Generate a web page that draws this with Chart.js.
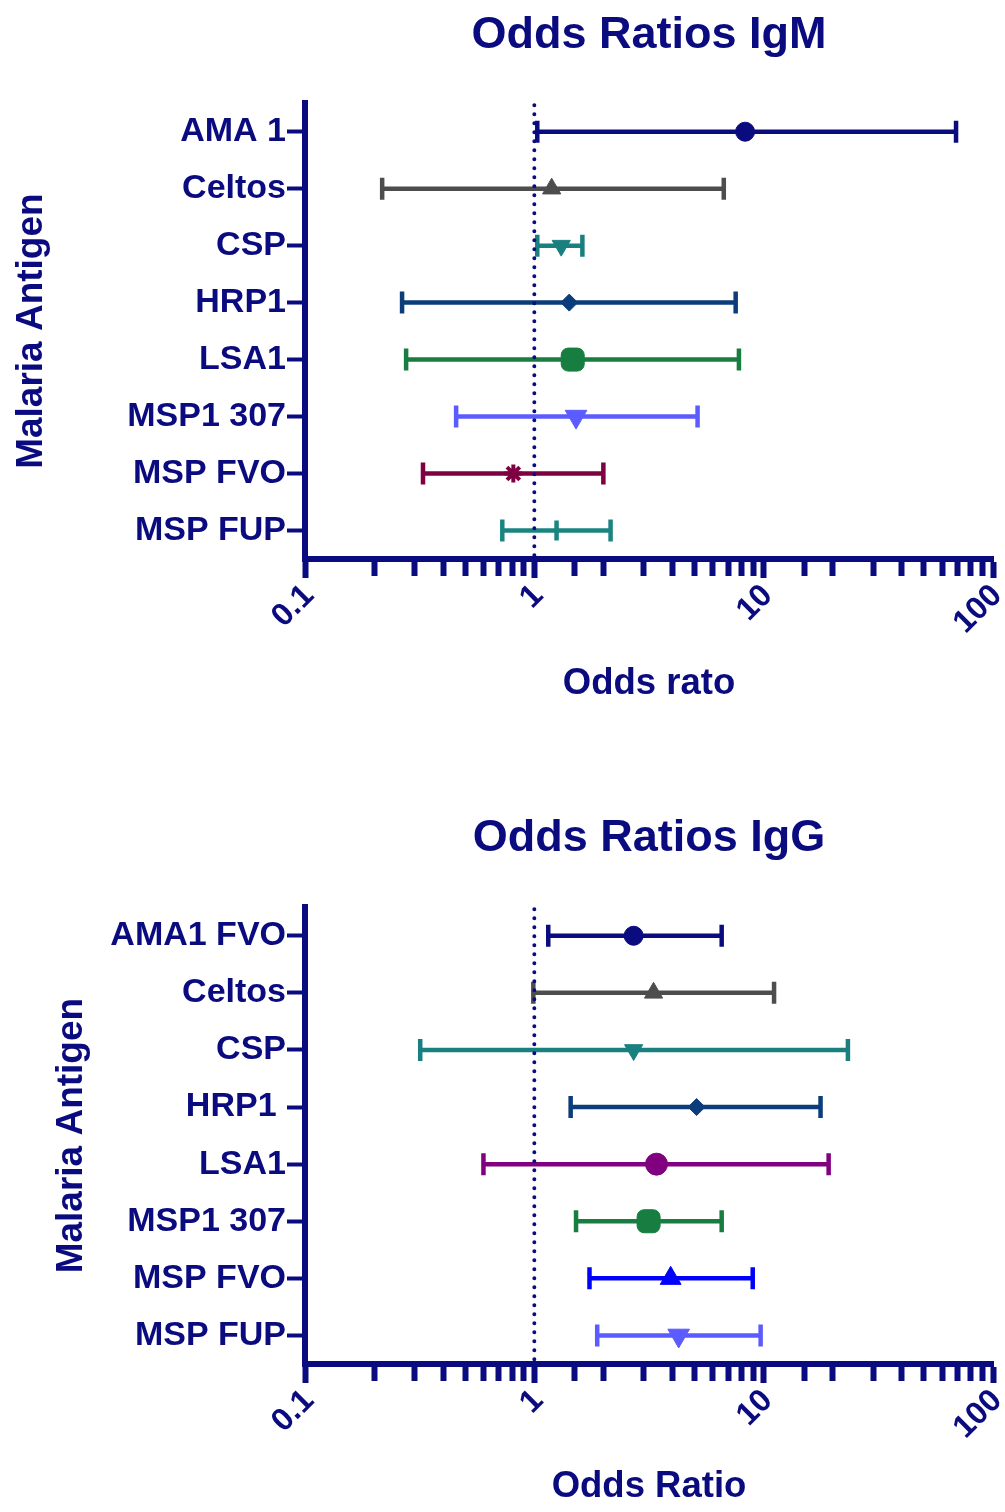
<!DOCTYPE html>
<html lang="en">
<head>
<meta charset="UTF-8" />
<title>Odds Ratios IgM / IgG</title>
<script src="https://cdn.jsdelivr.net/npm/chart.js"></script>
<style>
  * { box-sizing: border-box; margin: 0; padding: 0; }
  body { width: 1005px; height: 1512px; background: #fff; overflow: hidden; }
  .panel { position: relative; width: 1005px; height: 756px; }
</style>
</head>
<body>
  <div class="panel"><canvas id="igmChart"></canvas></div>
  <div class="panel"><canvas id="iggChart"></canvas></div>

<script>
  // IgM panel
  const igmAntigens = ['AMA 1', 'Celtos', 'CSP', 'HRP1', 'LSA1', 'MSP1 307', 'MSP FVO', 'MSP FUP'];
  const igmOdds  = [8.3, 1.19, 1.31, 1.42, 1.47, 1.52, 0.81, 1.25];
  const igmLower = [1.03, 0.217, 1.03, 0.265, 0.276, 0.456, 0.327, 0.725];
  const igmUpper = [69, 6.7, 1.62, 7.55, 7.8, 5.15, 2.0, 2.15];

  // IgG panel
  const iggAntigens = ['AMA1 FVO', 'Celtos', 'CSP', 'HRP1 ', 'LSA1', 'MSP1 307', 'MSP FVO', 'MSP FUP'];
  const iggOdds  = [2.71, 3.31, 2.71, 5.1, 3.41, 3.15, 3.93, 4.26];
  const iggLower = [1.15, 0.99, 0.318, 1.44, 0.60, 1.52, 1.74, 1.88];
  const iggUpper = [6.56, 11.1, 23.3, 17.7, 19.2, 6.56, 8.96, 9.7];

  const xTickLabels = [0.1, 1, 10, 100];

  const navy = '#0b0b80';

  // marker look per row: [color, pointStyle, radius, rotation]
  const igmMarkers = [
    ['#0b0b80', 'circle', 9.5, 0],
    ['#4d4d4d', 'triangle', 10.5, 0],
    ['#1a7f7f', 'triangle', 10.5, 180],
    ['#0b3d7b', 'rectRot', 8.5, 0],
    ['#177d40', 'rectRounded', 13.4, 0],
    ['#5b5bff', 'triangle', 12.5, 180],
    ['#7f0040', 'star', 9, 0],
    ['#1a8580', 'line', 10, 90]
  ];
  const iggMarkers = [
    ['#0b0b80', 'circle', 9.5, 0],
    ['#4d4d4d', 'triangle', 10.5, 0],
    ['#1a7f7f', 'triangle', 10.5, 180],
    ['#0b3d7b', 'rectRot', 8.5, 0],
    ['#800080', 'circle', 11, 0],
    ['#177d40', 'rectRounded', 13.4, 0],
    ['#0000ff', 'triangle', 12, 0],
    ['#5b5bff', 'triangle', 12.5, 180]
  ];

  Chart.defaults.font.family = '"Liberation Sans", Arial, sans-serif';
  Chart.defaults.font.weight = 'bold';

  const isDecade = v => Math.abs(Math.log10(v) - Math.round(Math.log10(v))) < 1e-6;

  // dotted reference line at OR = 1
  const refLine = {
    id: 'refLine',
    afterDatasetsDraw(chart) {
      const { ctx, chartArea, scales } = chart;
      const px = scales.x.getPixelForValue(1);
      ctx.save();
      ctx.strokeStyle = navy;
      ctx.lineWidth = 4;
      ctx.lineCap = 'round';
      ctx.setLineDash([0, 9]);
      ctx.beginPath();
      ctx.moveTo(px, chartArea.top + 2);
      ctx.lineTo(px, chartArea.bottom - 2);
      ctx.stroke();
      ctx.restore();
    }
  };

  function buildDatasets(antigens, odds, lower, upper, markers) {
    const sets = [];
    antigens.forEach((name, i) => {
      const [color, style, radius, rot] = markers[i];
      sets.push({
        data: [{ x: lower[i], y: name }, { x: upper[i], y: name }],
        showLine: true,
        borderColor: color,
        borderWidth: 4.5,
        pointStyle: 'line',
        pointRotation: 90,
        pointRadius: 11,
        pointHoverRadius: 11,
        pointBorderWidth: 4.5,
        pointBorderColor: color
      });
      sets.push({
        data: [{ x: odds[i], y: name }],
        pointStyle: style,
        pointRotation: rot,
        pointRadius: radius,
        pointHoverRadius: radius,
        backgroundColor: color,
        borderColor: color,
        pointBorderWidth: style === 'line' ? 4.5 : (style === 'star' ? 4 : 1)
      });
    });
    return sets;
  }

  function makeChart(id, cfg) {
    return new Chart(document.getElementById(id), {
      type: 'scatter',
      data: { datasets: buildDatasets(cfg.antigens, cfg.odds, cfg.lower, cfg.upper, cfg.markers) },
      options: {
        responsive: true,
        maintainAspectRatio: false,
        animation: false,
        layout: { padding: 0, autoPadding: false },
        plugins: {
          legend: { display: false },
          tooltip: { enabled: false },
          title: {
            display: true,
            text: cfg.title,
            color: navy,
            fullSize: false,
            font: { size: 45, weight: 'bold' },
            padding: cfg.titlePad
          }
        },
        scales: {
          x: {
            type: 'logarithmic',
            min: 0.1,
            max: 100,
            border: { display: true, color: navy, width: 6 },
            grid: {
              display: true,
              drawOnChartArea: false,
              drawTicks: true,
              tickLength: 19,
              tickWidth: 6,
              color: navy,
              tickColor: navy,
              tickBorderDash: ctx => (ctx.tick && isDecade(ctx.tick.value)) ? [] : [14, 60]
            },
            ticks: {
              autoSkip: false,
              maxRotation: 45,
              minRotation: 45,
              padding: -1,
              labelOffset: 4,
              color: navy,
              font: { size: 32, weight: 'bold' },
              callback: v => xTickLabels.some(t => Math.abs(t - v) < 1e-9) ? String(v) : ''
            },
            title: {
              display: true,
              text: cfg.xTitle,
              color: navy,
              font: { size: 36.5, weight: 'bold' },
              padding: { top: 0, bottom: cfg.xTitlePad }
            },
            afterFit: s => { s.height = cfg.xHeight; s.paddingRight = 12; }
          },
          y: {
            type: 'category',
            labels: cfg.antigens,
            offset: true,
            border: { display: true, color: navy, width: 6 },
            grid: {
              display: true,
              offset: false,
              drawOnChartArea: false,
              tickLength: 18,
              tickWidth: 4,
              color: navy,
              tickColor: navy
            },
            ticks: {
              autoSkip: false,
              padding: 1,
              color: navy,
              font: { size: 34, weight: 'bold' }
            },
            title: {
              display: true,
              text: 'Malaria Antigen',
              color: navy,
              font: { size: 37, weight: 'bold' },
              padding: { top: cfg.yTitlePad, bottom: 0 }
            },
            afterFit: s => { s.width = 305; s.paddingTop = 0; s.paddingBottom = 0; }
          }
        }
      },
      plugins: [refLine]
    });
  }

  makeChart('igmChart', {
    antigens: igmAntigens, odds: igmOdds, lower: igmLower, upper: igmUpper, markers: igmMarkers,
    title: 'Odds Ratios IgM',
    titlePad: { top: 8.6, bottom: 40.6 },
    xTitle: 'Odds rato',
    xTitlePad: 50,
    xHeight: 197,
    yTitlePad: 10
  });

  makeChart('iggChart', {
    antigens: iggAntigens, odds: iggOdds, lower: iggLower, upper: iggUpper, markers: iggMarkers,
    title: 'Odds Ratios IgG',
    titlePad: { top: 55.6, bottom: 41.6 },
    xTitle: 'Odds Ratio',
    xTitlePad: 3,
    xHeight: 148,
    yTitlePad: 50
  });
</script>
</body>
</html>
